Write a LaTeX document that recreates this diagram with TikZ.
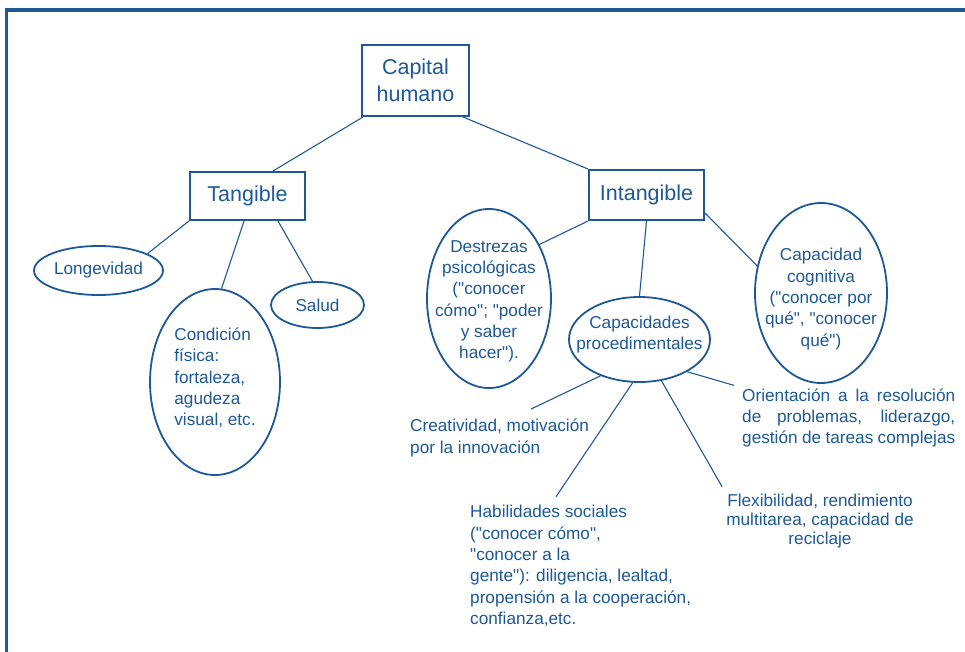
\documentclass[tikz,border=0pt]{standalone}
\usepackage{fontspec}
\setmainfont{Liberation Sans}[Ligatures=TeXOff]
\usepackage{tikz}
\usetikzlibrary{shapes.geometric}
\usepackage{xcolor}
\definecolor{capblue}{RGB}{30,88,150}

\begin{document}
\begin{tikzpicture}[x=1pt, y=-1pt,
  every node/.style={text=capblue},
  box/.style={draw=capblue, line width=2pt, rectangle, inner sep=0pt, align=center,
    font=\fontsize{21.5}{27}\selectfont},
  oval/.style={draw=capblue, line width=1.8pt, ellipse, inner sep=0pt},
  lbl/.style={inner sep=0pt, align=center, text=capblue, font=\fontsize{17.2}{21.3}\selectfont},
  txt/.style={inner sep=0pt, align=left, font=\fontsize{17.2}{21.3}\selectfont},
  link/.style={draw=capblue, line width=1.1pt}]
  \useasboundingbox (0,0) rectangle (965,652);

  % frame
  \draw[capblue, line width=3.3pt] (6.5,652) -- (6.5,10) -- (965,10);

  % top level
  \node[box, minimum width=107pt, minimum height=71pt] (cap) at (415.5,80.5) {Capital\\humano};
  \node[box, minimum width=115pt, minimum height=48pt] (tang) at (247.5,196) {Tangible};
  \node[box, minimum width=115pt, minimum height=50pt] (intan) at (646.5,195) {Intangible};

  % tangible branch
  \node[oval, minimum width=129pt, minimum height=49pt,
    label={[lbl]center:Longevidad}] (long) at (98.5,270.5) {};
  \node[oval, minimum width=93pt, minimum height=46pt,
    label={[lbl]center:Salud}] (salud) at (317.5,305) {};
  \node[oval, minimum width=130pt, minimum height=186pt,
    label={[lbl, align=left, yshift=4pt]center:{Condición\\física:\\fortaleza,\\agudeza\\visual, etc.}}] (cond) at (215,382) {};

  % intangible branch
  \node[oval, minimum width=124pt, minimum height=179pt,
    label={[lbl, yshift=-3pt]center:{Destrezas\\psicológicas\\("conocer\\cómo"; "poder\\y saber\\hacer").}}] (destr) at (489,298.5) {};
  \node[oval, minimum width=141pt, minimum height=85pt,
    label={[lbl, yshift=5pt]center:{Capacidades\\procedimentales}}] (proc) at (639.5,339.5) {};
  \node[oval, minimum width=132pt, minimum height=180pt,
    label={[lbl, yshift=-6pt]center:{Capacidad\\cognitiva\\("conocer por\\qué", "conocer\\qué")}}] (cogn) at (821,293) {};

  % procedural abilities
  \node[txt, anchor=west] (crea) at (410,438) {Creatividad, motivación\\por la innovación};
  \node[txt, anchor=west] (hab) at (470,566) {Habilidades sociales\\("conocer cómo",\\"conocer a la\\gente"): diligencia, lealtad,\\propensión a la cooperación,\\confianza,etc.};
  \node[txt, align=center, font=\fontsize{17.2}{19}\selectfont] (flex) at (820,521) {Flexibilidad, rendimiento\\multitarea, capacidad de\\reciclaje};
  \node[txt, anchor=west, align=justify, text width=213pt] (orient) at (742,418)
    {\parfillskip=0pt\hyphenpenalty=10000 Orientación a la resolución de problemas, liderazgo, gestión de tareas complejas};

  % links
  \draw[link] ([xshift=2pt]cap.south west) -- ([xshift=25.5pt]tang.north);
  \draw[link] ([xshift=-7pt]cap.south east) -- (intan.north west);
  \draw[link] (tang.south west) -- (long.19);
  \draw[link] ([xshift=-3.5pt]tang.south) -- (cond.86);
  \draw[link] ([xshift=30.5pt]tang.south) -- (salud.102);
  \draw[link] (intan.south west) -- (destr.47);
  \draw[link] (intan.south) -- (proc.north);
  \draw[link] ([yshift=-18pt]intan.east) -- (cogn.157);
  \draw[link] (proc.223) -- ([xshift=121pt, yshift=10pt]crea.north west);
  \draw[link] (proc.261) -- ([xshift=86pt, yshift=8.5pt]hab.north west);
  \draw[link] (proc.298) -- ([xshift=-4pt, yshift=7pt]flex.north west);
  \draw[link] (proc.326) -- ([xshift=-8pt, yshift=3pt]orient.north west);
\end{tikzpicture}
\end{document}
